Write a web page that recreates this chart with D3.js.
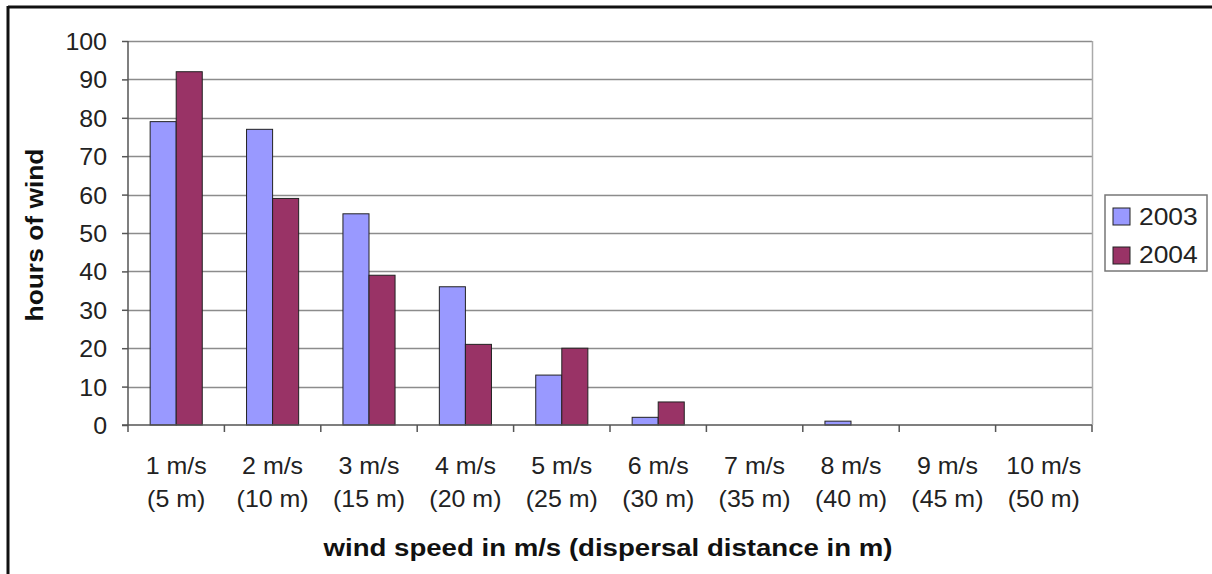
<!DOCTYPE html>
<html><head><meta charset="utf-8">
<script src="https://cdn.jsdelivr.net/npm/d3@7"></script>
<style>body{margin:0;background:#fff;}svg{display:block;font-family:"Liberation Sans",Arial,sans-serif;}</style>
</head><body>
<svg id="c" width="1212" height="574"></svg>
<script>
const categories = ["1 m/s|(5 m)","2 m/s|(10 m)","3 m/s|(15 m)","4 m/s|(20 m)","5 m/s|(25 m)","6 m/s|(30 m)","7 m/s|(35 m)","8 m/s|(40 m)","9 m/s|(45 m)","10 m/s|(50 m)"];
const seriesNames = ["2003","2004"];
const values2003 = [79,77,55,36,13,2,0,1,0,0];
const values2004 = [92,59,39,21,20,6,0,0,0,0];
const yTicks = [0,10,20,30,40,50,60,70,80,90,100];
const colors = ["#9999ff","#993366"];

const svg = d3.select("#c");
function stext(parent, x, y, str, opts){
  return parent.append("text")
    .attr("transform",`translate(${x},${y}) scale(${opts.sx||1},1)`)
    .attr("text-anchor",opts.anchor||"middle")
    .attr("font-size",opts.size||24)
    .attr("font-weight",opts.bold?"bold":"normal")
    .attr("fill",opts.fill||"#222")
    .text(str);
}

// outer frame (top & left)
svg.append("line").attr("x1",8).attr("x2",1212).attr("y1",7).attr("y2",7).attr("stroke","#111").attr("stroke-width",3);
svg.append("line").attr("x1",8).attr("x2",8).attr("y1",6).attr("y2",574).attr("stroke","#111").attr("stroke-width",3);

const L=128,R=1092,T=41,B=425;
const x = d3.scaleBand().domain(categories).range([L,R]).paddingInner(0).paddingOuter(0);
const y = d3.scaleLinear().domain([0,100]).range([B,T]);
const xs = d3.scaleBand().domain(seriesNames).range([0,x.bandwidth()]).paddingInner(0).paddingOuter(0.85);

// gridlines
svg.append("g").selectAll("line").data(yTicks.filter(d=>d>0)).join("line")
  .attr("x1",L).attr("x2",R).attr("y1",d=>Math.round(y(d))+0.5).attr("y2",d=>Math.round(y(d))+0.5)
  .attr("stroke","#8c8c8c").attr("stroke-width",1.6);
// right border of plot
svg.append("line").attr("x1",R+0.5).attr("x2",R+0.5).attr("y1",T).attr("y2",B).attr("stroke","#aaa").attr("stroke-width",1.5);

// bars
const data = categories.map((c,i)=>({c, v:[values2003[i],values2004[i]]}));
const g = svg.append("g");
data.forEach(d=>{
  d.v.forEach((v,j)=>{
    if(v<=0) return;
    g.append("rect")
      .attr("x",x(d.c)+xs(seriesNames[j]))
      .attr("y",y(v))
      .attr("width",xs.bandwidth())
      .attr("height",y(0)-y(v))
      .attr("fill",colors[j]).attr("stroke","#222").attr("stroke-width",1);
  });
});

// y axis
const yAxis = d3.axisLeft(y).tickValues(yTicks).tickSize(6).tickFormat("");
const ya = svg.append("g").attr("transform",`translate(${L},0)`).call(yAxis);
ya.select(".domain").attr("stroke","#555").attr("stroke-width",1.5).attr("d",`M0,${T}V${B}`);
ya.selectAll(".tick line").attr("stroke","#555").attr("stroke-width",1.5);
yTicks.forEach(v=>stext(svg,107,y(v)+9,String(v),{anchor:"end",size:24,sx:1.04}));

// x axis
const xa = svg.append("g").attr("transform",`translate(0,${B})`);
xa.append("line").attr("x1",L-6).attr("x2",R).attr("y1",0).attr("y2",0).attr("stroke","#555").attr("stroke-width",1.5);
const bounds = categories.map(c=>x(c)).concat([R]);
xa.selectAll("line.tk").data(bounds).join("line").attr("class","tk")
  .attr("x1",d=>d).attr("x2",d=>d).attr("y1",0).attr("y2",7).attr("stroke","#555").attr("stroke-width",1.5);
categories.forEach(c=>{
  const cx = x(c)+x.bandwidth()/2;
  const [a,b] = c.split("|");
  stext(xa,cx,49,a,{size:24,sx:1.04});
  stext(xa,cx,82,b,{size:24,sx:1.04});
});

// axis titles
stext(svg,608,556,"wind speed in m/s (dispersal distance in m)",{size:24,bold:true,sx:1.15,fill:"#111"});
svg.append("text").attr("transform","translate(43,235) rotate(-90) scale(1.1,1)").attr("text-anchor","middle")
  .attr("font-size",24).attr("font-weight","bold").attr("fill","#111").text("hours of wind");

// legend
const lg = svg.append("g").attr("transform","translate(1105,195)");
lg.append("rect").attr("x",0).attr("y",0).attr("width",102).attr("height",76).attr("fill","#fff").attr("stroke","#777").attr("stroke-width",1.5);
seriesNames.forEach((s,i)=>{
  lg.append("rect").attr("x",8).attr("y",13+i*39).attr("width",17).attr("height",17).attr("fill",colors[i]).attr("stroke","#222").attr("stroke-width",1);
  stext(lg,34,30+i*38,s,{anchor:"start",size:24,sx:1.1});
});
</script>
</body></html>
